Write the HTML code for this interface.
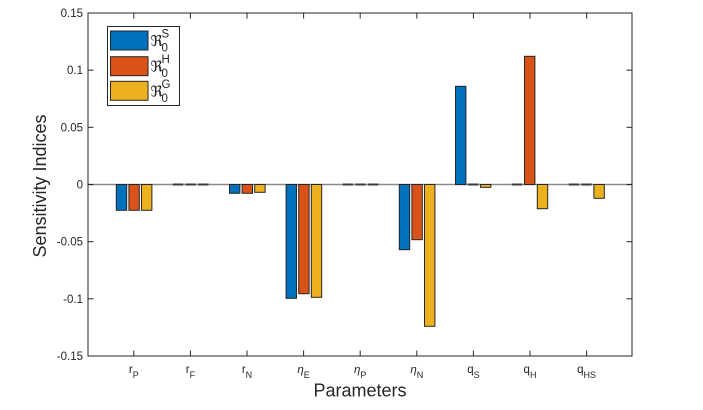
<!DOCTYPE html>
<html>
<head>
<meta charset="utf-8">
<style>
  html, body { margin: 0; padding: 0; background: #ffffff; }
  body { width: 703px; height: 410px; overflow: hidden; }
  svg { display: block; }
  text { font-family: "Liberation Sans", "DejaVu Sans", sans-serif; fill: #262626; }
</style>
</head>
<body>
<svg width="703" height="410" viewBox="0 0 703 410" xmlns="http://www.w3.org/2000/svg">
  <rect x="0" y="0" width="703" height="410" fill="#ffffff"/>

  <!-- baseline -->
  <line x1="88" y1="184.5" x2="632" y2="184.5" stroke="#8a8a8a" stroke-width="1.5"/>

  <g stroke="#262626" stroke-width="1">
    <!-- r_P -->
    <rect x="116.3" y="184.5" width="10.4" height="25.8" fill="#0072BD"/>
    <rect x="128.9" y="184.5" width="10.4" height="25.8" fill="#D95319"/>
    <rect x="141.5" y="184.5" width="10.4" height="25.8" fill="#EDB120"/>
    <!-- r_N -->
    <rect x="229.5" y="184.5" width="10.4" height="8.8" fill="#0072BD"/>
    <rect x="242.1" y="184.5" width="10.4" height="8.8" fill="#D95319"/>
    <rect x="254.7" y="184.5" width="10.4" height="7.8" fill="#EDB120"/>
    <!-- eta_E -->
    <rect x="286.1" y="184.5" width="10.4" height="113.8" fill="#0072BD"/>
    <rect x="298.7" y="184.5" width="10.4" height="109.2" fill="#D95319"/>
    <rect x="311.3" y="184.5" width="10.4" height="112.8" fill="#EDB120"/>
    <!-- eta_N -->
    <rect x="399.3" y="184.5" width="10.4" height="65.2" fill="#0072BD"/>
    <rect x="411.9" y="184.5" width="10.4" height="55.2" fill="#D95319"/>
    <rect x="424.5" y="184.5" width="10.4" height="141.8" fill="#EDB120"/>
    <!-- q_S -->
    <rect x="455.5" y="86.3" width="10.4" height="98.2" fill="#0072BD"/>
    <rect x="480.5" y="184.5" width="10.4" height="2.8" fill="#EDB120"/>
    <!-- q_H -->
    <rect x="524.5" y="56.3" width="10.4" height="128.2" fill="#D95319"/>
    <rect x="537.3" y="184.5" width="10.4" height="24.2" fill="#EDB120"/>
    <!-- q_HS -->
    <rect x="593.9" y="184.5" width="10.4" height="13.8" fill="#EDB120"/>
  </g>

  <!-- zero-height bars -->
  <g stroke="#3a3a3a" stroke-width="2">
    <line x1="172.9" y1="184.5" x2="183.3" y2="184.5"/>
    <line x1="185.5" y1="184.5" x2="195.9" y2="184.5"/>
    <line x1="198.1" y1="184.5" x2="208.5" y2="184.5"/>
    <line x1="342.7" y1="184.5" x2="353.1" y2="184.5"/>
    <line x1="355.3" y1="184.5" x2="365.7" y2="184.5"/>
    <line x1="367.9" y1="184.5" x2="378.3" y2="184.5"/>
    <line x1="467.9" y1="184.5" x2="478.3" y2="184.5"/>
    <line x1="511.9" y1="184.5" x2="522.3" y2="184.5"/>
    <line x1="568.7" y1="184.5" x2="579.1" y2="184.5"/>
    <line x1="581.3" y1="184.5" x2="591.7" y2="184.5"/>
  </g>

  <!-- axes box -->
  <rect x="88" y="13" width="544" height="343" fill="none" stroke="#262626" stroke-width="1"/>

  <!-- y ticks (left & right) -->
  <g stroke="#262626" stroke-width="1">
    <line x1="88" y1="70.2" x2="93.5" y2="70.2"/>
    <line x1="88" y1="127.3" x2="93.5" y2="127.3"/>
    <line x1="88" y1="184.5" x2="93.5" y2="184.5"/>
    <line x1="88" y1="241.7" x2="93.5" y2="241.7"/>
    <line x1="88" y1="298.8" x2="93.5" y2="298.8"/>
    <line x1="626.5" y1="70.2" x2="632" y2="70.2"/>
    <line x1="626.5" y1="127.3" x2="632" y2="127.3"/>
    <line x1="626.5" y1="184.5" x2="632" y2="184.5"/>
    <line x1="626.5" y1="241.7" x2="632" y2="241.7"/>
    <line x1="626.5" y1="298.8" x2="632" y2="298.8"/>
  </g>
  <!-- x ticks (bottom & top) -->
  <g stroke="#262626" stroke-width="1">
    <line x1="133.8" y1="356" x2="133.8" y2="350.5"/>
    <line x1="190.4" y1="356" x2="190.4" y2="350.5"/>
    <line x1="247.0" y1="356" x2="247.0" y2="350.5"/>
    <line x1="303.6" y1="356" x2="303.6" y2="350.5"/>
    <line x1="360.2" y1="356" x2="360.2" y2="350.5"/>
    <line x1="416.8" y1="356" x2="416.8" y2="350.5"/>
    <line x1="473.4" y1="356" x2="473.4" y2="350.5"/>
    <line x1="530.0" y1="356" x2="530.0" y2="350.5"/>
    <line x1="586.6" y1="356" x2="586.6" y2="350.5"/>
    <line x1="133.8" y1="13" x2="133.8" y2="18.5"/>
    <line x1="190.4" y1="13" x2="190.4" y2="18.5"/>
    <line x1="247.0" y1="13" x2="247.0" y2="18.5"/>
    <line x1="303.6" y1="13" x2="303.6" y2="18.5"/>
    <line x1="360.2" y1="13" x2="360.2" y2="18.5"/>
    <line x1="416.8" y1="13" x2="416.8" y2="18.5"/>
    <line x1="473.4" y1="13" x2="473.4" y2="18.5"/>
    <line x1="530.0" y1="13" x2="530.0" y2="18.5"/>
    <line x1="586.6" y1="13" x2="586.6" y2="18.5"/>
  </g>

  <!-- y tick labels -->
  <g font-size="11.5" text-anchor="end">
    <text x="83" y="17">0.15</text>
    <text x="83" y="74.2">0.1</text>
    <text x="83" y="131.3">0.05</text>
    <text x="83" y="188.5">0</text>
    <text x="83" y="245.7">-0.05</text>
    <text x="83" y="302.8">-0.1</text>
    <text x="83" y="360">-0.15</text>
  </g>

  <!-- x tick labels -->
  <g font-size="11.5" text-anchor="middle">
    <text x="133.8" y="373">r<tspan font-size="9" dy="5">P</tspan></text>
    <text x="190.4" y="373">r<tspan font-size="9" dy="5">F</tspan></text>
    <text x="247.0" y="373">r<tspan font-size="9" dy="5">N</tspan></text>
    <text x="303.6" y="373"><tspan font-style="italic">η</tspan><tspan font-size="9" dy="5">E</tspan></text>
    <text x="360.2" y="373"><tspan font-style="italic">η</tspan><tspan font-size="9" dy="5">P</tspan></text>
    <text x="416.8" y="373"><tspan font-style="italic">η</tspan><tspan font-size="9" dy="5">N</tspan></text>
    <text x="473.4" y="373">q<tspan font-size="9" dy="5">S</tspan></text>
    <text x="530.0" y="373">q<tspan font-size="9" dy="5">H</tspan></text>
    <text x="586.6" y="373">q<tspan font-size="9" dy="5">HS</tspan></text>
  </g>

  <!-- axis labels -->
  <text x="360" y="396.7" font-size="18" text-anchor="middle">Parameters</text>
  <text transform="translate(46,186) rotate(-90)" font-size="18" text-anchor="middle">Sensitivity Indices</text>

  <!-- legend -->
  <rect x="107.5" y="26.5" width="72" height="79" fill="#ffffff" stroke="#262626" stroke-width="1"/>
  <g stroke="#262626" stroke-width="1">
    <rect x="110.5" y="31" width="37.5" height="19" fill="#0072BD"/>
    <rect x="110.5" y="56.7" width="37.5" height="19" fill="#D95319"/>
    <rect x="110.5" y="81.3" width="37.5" height="19" fill="#EDB120"/>
  </g>
  <g>
    <text x="150.5" y="46" font-size="15" style="font-family:'DejaVu Serif','DejaVu Sans',serif">ℜ</text>
    <text x="161.5" y="37.5" font-size="11.5">S</text>
    <text x="161.5" y="51.5" font-size="11.5">0</text>

    <text x="150.5" y="71.5" font-size="15" style="font-family:'DejaVu Serif','DejaVu Sans',serif">ℜ</text>
    <text x="161.5" y="63" font-size="11.5">H</text>
    <text x="161.5" y="77" font-size="11.5">0</text>

    <text x="150.5" y="96.5" font-size="15" style="font-family:'DejaVu Serif','DejaVu Sans',serif">ℜ</text>
    <text x="161.5" y="88" font-size="11.5">G</text>
    <text x="161.5" y="102" font-size="11.5">0</text>
  </g>
</svg>
</body>
</html>
